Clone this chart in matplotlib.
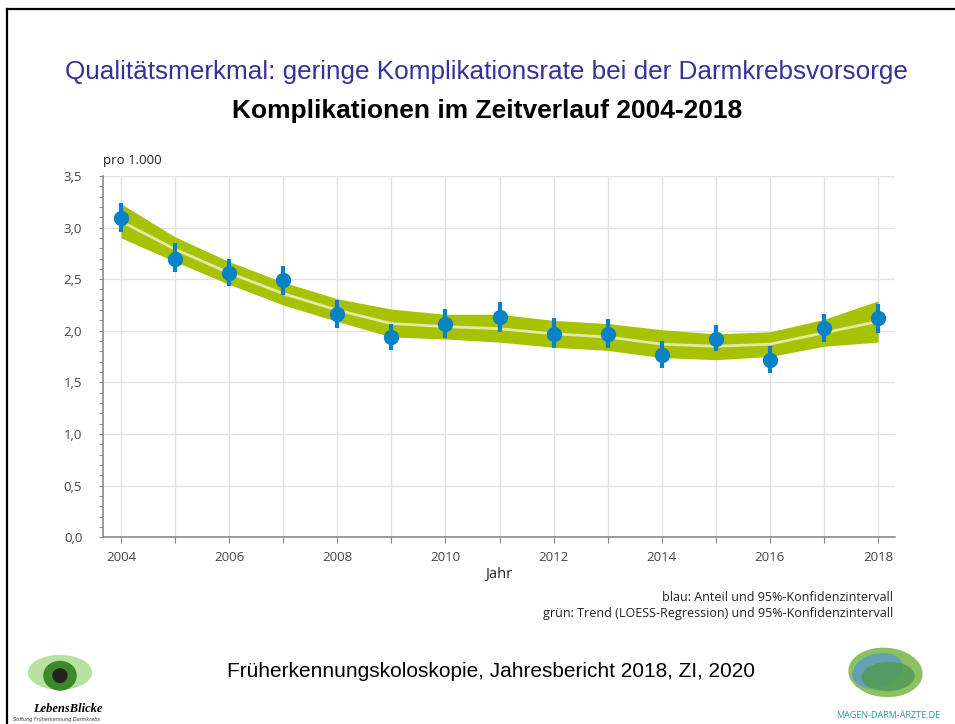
import matplotlib.pyplot as plt
import matplotlib.ticker as mticker
from matplotlib.lines import Line2D
from matplotlib.patches import Ellipse

# data (per 1.000)
years = [2004, 2005, 2006, 2007, 2008, 2009, 2010, 2011,
         2012, 2013, 2014, 2015, 2016, 2017, 2018]
rate = [3.09, 2.70, 2.56, 2.49, 2.16, 1.94, 2.07, 2.13,
        1.97, 1.97, 1.77, 1.92, 1.72, 2.03, 2.12]
ci_low = [2.96, 2.57, 2.43, 2.35, 2.03, 1.81, 1.93, 1.99,
          1.83, 1.83, 1.64, 1.80, 1.59, 1.89, 1.98]
ci_high = [3.24, 2.85, 2.70, 2.63, 2.30, 2.07, 2.21, 2.28,
           2.12, 2.11, 1.90, 2.06, 1.85, 2.16, 2.26]
trend = [3.06, 2.79, 2.56, 2.36, 2.20, 2.07, 2.04, 2.02,
         1.97, 1.94, 1.87, 1.85, 1.87, 1.98, 2.09]
trend_low = [2.90, 2.67, 2.45, 2.25, 2.09, 1.94, 1.92, 1.89,
             1.84, 1.81, 1.74, 1.72, 1.75, 1.85, 1.89]
trend_high = [3.23, 2.91, 2.67, 2.47, 2.31, 2.21, 2.16, 2.16,
              2.10, 2.07, 2.01, 1.97, 1.99, 2.11, 2.29]
xlabels = [str(y) if y % 2 == 0 else '' for y in years]

BLUE = '#0a82c6'
GREEN = '#a6c200'
PALE = '#e4e8a8'
GRID = '#e2e2e2'
AXCOL = '#8a8a8a'
TXT = '#444444'

fig = plt.figure(figsize=(9.55, 7.24), dpi=100)
ax = fig.add_axes([0.108, 0.258, 0.829, 0.499])

ax.fill_between(years, trend_low, trend_high, color=GREEN, lw=0, zorder=2)
ax.plot(years, trend, color=PALE, lw=2, zorder=3)

yerr = [[r - l for r, l in zip(rate, ci_low)], [h - r for r, h in zip(rate, ci_high)]]
ax.errorbar(years, rate, yerr=yerr, fmt='o', color=BLUE, ms=10, elinewidth=3,
            capsize=0, zorder=4)

ax.set_xlim(2003.67, 2018.31)
ax.set_ylim(0, 3.5)
ax.set_xticks(years)
ax.set_xticklabels(xlabels)
ax.yaxis.set_major_locator(mticker.MultipleLocator(0.5))
ax.yaxis.set_minor_locator(mticker.MultipleLocator(0.1))
ax.yaxis.set_major_formatter(mticker.FuncFormatter(lambda v, p: f'{v:.1f}'.replace('.', ',')))

ax.grid(True, which='major', color=GRID, lw=1, zorder=0)
for s in ['top', 'right']:
    ax.spines[s].set_visible(False)
for s in ['left', 'bottom']:
    ax.spines[s].set_color(AXCOL)
    ax.spines[s].set_linewidth(1.2)
ax.tick_params(axis='both', which='both', color=AXCOL, labelcolor=TXT,
               labelsize=9.5, direction='out')
ax.tick_params(axis='y', which='both', length=3, pad=12)
ax.tick_params(axis='x', length=4, pad=6)
for lbl in ax.get_xticklabels() + ax.get_yticklabels():
    lbl.set_fontfamily('Open Sans')

ax.set_xlabel('Jahr', fontsize=10.5, color='#222222', family='Open Sans', labelpad=2)
fig.text(0.108, 0.778, 'pro 1.000', fontsize=9.5, color='#222222', family='Open Sans',
         ha='left', va='center')
fig.text(0.935, 0.175, 'blau: Anteil und 95%-Konfidenzintervall', fontsize=9,
         color='#222222', family='Open Sans', ha='right', va='center')
fig.text(0.935, 0.153, 'grün: Trend (LOESS-Regression) und 95%-Konfidenzintervall',
         fontsize=9, color='#222222', family='Open Sans', ha='right', va='center')

# slide titles
fig.text(0.509, 0.900, 'Qualitätsmerkmal: geringe Komplikationsrate bei der Darmkrebsvorsorge',
         fontsize=18.8, color='#33339a', family='Liberation Sans', ha='center', va='center')
fig.text(0.510, 0.846, 'Komplikationen im Zeitverlauf 2004-2018', fontsize=19,
         fontweight='bold', color='black', family='Liberation Sans', ha='center', va='center')
fig.text(0.514, 0.072, 'Früherkennungskoloskopie, Jahresbericht 2018, ZI, 2020',
         fontsize=15, color='black', family='Liberation Sans', ha='center', va='center')

# slide border
fig.add_artist(Line2D([0.0073, 1.0], [0.9876, 0.9876], transform=fig.transFigure,
                      color='black', lw=1.6))
fig.add_artist(Line2D([0.0073, 0.0073], [0.0, 0.9876], transform=fig.transFigure,
                      color='black', lw=1.6))

# rough logo sketches
logo = fig.add_axes([0.01, 0.0, 0.16, 0.115])
logo.set_xlim(0, 1)
logo.set_ylim(0, 1)
logo.axis('off')
logo.add_patch(Ellipse((0.33, 0.62), 0.42, 0.42, color='#b8e0a0', lw=0))
logo.add_patch(Ellipse((0.33, 0.58), 0.22, 0.36, color='#3a8a2a', lw=0))
logo.add_patch(Ellipse((0.33, 0.58), 0.1, 0.18, color='#222222', lw=0))
logo.text(0.38, 0.18, 'LebensBlicke', fontsize=9, family='Liberation Serif',
          style='italic', fontweight='bold', ha='center', va='center')
logo.text(0.02, 0.05, 'Stiftung Früherkennung Darmkrebs', fontsize=3.5,
          style='italic', ha='left', va='center', color='#333333')

logo2 = fig.add_axes([0.86, 0.0, 0.14, 0.115])
logo2.set_xlim(0, 1)
logo2.set_ylim(0, 1)
logo2.axis('off')
logo2.add_patch(Ellipse((0.48, 0.62), 0.55, 0.6, angle=20, color='#8cc063', lw=0))
logo2.add_patch(Ellipse((0.42, 0.64), 0.35, 0.45, angle=-30, color='#5b9bc8', lw=0, alpha=0.8))
logo2.add_patch(Ellipse((0.5, 0.57), 0.4, 0.35, angle=10, color='#4f9a55', lw=0, alpha=0.85))
logo2.text(0.5, 0.1, 'MAGEN-DARM-ÄRZTE.DE', fontsize=6.5, color='#3a8fa8',
           family='Open Sans', ha='center', va='center')

fig.savefig('out.png', dpi=100)
